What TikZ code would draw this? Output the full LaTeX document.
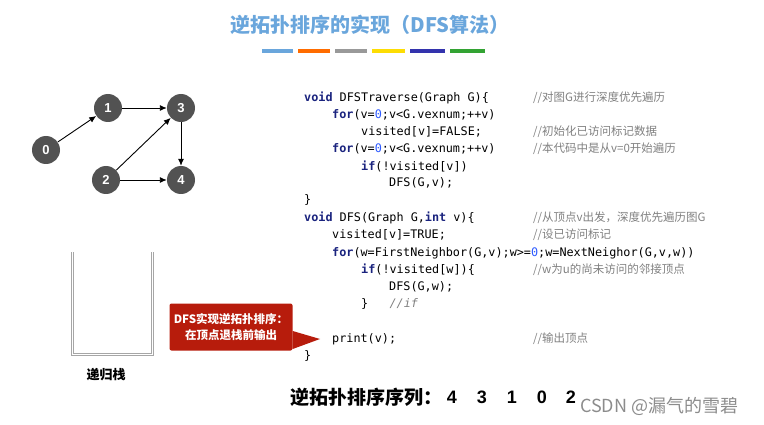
\documentclass[tikz,border=0pt]{standalone}
\usepackage{fontspec}
\setmainfont{Liberation Sans}
\setmonofont{DejaVu Sans Mono}
\newfontfamily\cjk{Noto Sans CJK SC}
\usetikzlibrary{arrows.meta}
\definecolor{ttl}{HTML}{6AA6DC}
\definecolor{kw}{HTML}{1A237E}
\definecolor{num}{HTML}{2E5BFF}
\definecolor{cmt}{HTML}{808080}
\definecolor{callred}{HTML}{B71C0C}
\newcommand{\kw}[1]{\textcolor{kw}{\textbf{#1}}}
\newcommand{\nm}[1]{\textcolor{num}{#1}}
\tikzset{
 vert/.style={circle,fill=black!68,minimum size=28pt,inner sep=0pt,text=white,font=\bfseries\fontsize{13}{13}\selectfont},
 edge/.style={-{Latex[length=7pt,width=6pt]},line width=0.9pt},
 code/.style={anchor=west,inner sep=0pt,font=\ttfamily\fontsize{11.8}{12}\selectfont},
 cmtx/.style={anchor=west,inner sep=0pt,text=cmt,font=\cjk\fontsize{11.5}{12}\selectfont},
 digit/.style={inner sep=0pt,font=\bfseries\fontsize{18}{18}\selectfont},
 bar/.style={line width=4pt},
}
\begin{document}
\begin{tikzpicture}[x=1pt,y=-1pt]
\useasboundingbox (0,0) rectangle (764,425);
\node[font=\cjk\bfseries\fontsize{20}{20}\selectfont,text=ttl] (title) at (370,25) {逆拓扑排序的实现（DFS算法）};
\draw[bar,color=ttl] (262,51)--(293,51);
\draw[bar,color=orange!85!red] (298,51)--(330,51);
\draw[bar,color=black!40] (335,51)--(367,51);
\draw[bar,color=yellow!80!orange] (372,51)--(405,51);
\draw[bar,color=blue!60!black!80] (410,51)--(445,51);
\draw[bar,color=green!55!black!80] (450,51)--(485,51);
\node[vert] (v0) at (46,150) {0};
\node[vert] (v1) at (108,108) {1};
\node[vert] (v3) at (181,108) {3};
\node[vert] (v2) at (106,180) {2};
\node[vert] (v4) at (181,180) {4};
\draw[edge] (v0)--(v1);
\draw[edge] (v1)--(v3);
\draw[edge] (v2)--(v3);
\draw[edge] (v3)--(v4);
\draw[edge] (v2)--(v4);
\draw[black!35,line width=3pt] (72,252)--(72,354)--(152,354)--(152,252);
\draw[white,line width=1pt] (72,252)--(72,354)--(152,354)--(152,252);
\node[font=\cjk\bfseries\fontsize{13}{13}\selectfont] (stk) at (106,375) {递归栈};
\node[code] (c1) at (304,98) {\kw{void} DFSTraverse(Graph G)\{};
\node[code] (c2) at (332,115) {\kw{for}(v=\nm{0};v<G.vexnum;++v)};
\node[code] (c3) at (361,132) {visited[v]=FALSE;};
\node[code] (c4) at (332,149) {\kw{for}(v=\nm{0};v<G.vexnum;++v)};
\node[code] (c5) at (361,166) {\kw{if}(!visited[v])};
\node[code] (c6) at (389,183) {DFS(G,v);};
\node[code] (c7) at (304,200) {\}};
\node[code] (c8) at (304,218) {\kw{void} DFS(Graph G,\kw{int} v)\{};
\node[code] (c9) at (332,235) {visited[v]=TRUE;};
\node[code] (c10) at (332,253) {\kw{for}(w=FirstNeighbor(G,v);w>=\nm{0};w=NextNeighor(G,v,w))};
\node[code] (c11) at (361,270) {\kw{if}(!visited[w])\{};
\node[code] (c12) at (389,287) {DFS(G,w);};
\node[code] (c13) at (361,304) {\}\ \ \ \textcolor{cmt}{\textit{//if}}};
\node[code] (c14) at (332,339) {print(v);};
\node[code] (c15) at (304,356) {\}};
\node[cmtx] (m1) at (533,98) {//对图\textit{G}进行深度优先遍历};
\node[cmtx] (m2) at (533,132) {//初始化已访问标记数据};
\node[cmtx] (m3) at (533,149) {//本代码中是从\textit{v=0}开始遍历};
\node[cmtx] (m4) at (533,218) {//从顶点\textit{v}出发，深度优先遍历图\textit{G}};
\node[cmtx] (m5) at (533,235) {//设已访问标记};
\node[cmtx] (m6) at (533,270) {//\textit{w}为\textit{u}的尚未访问的邻接顶点};
\node[cmtx] (m7) at (533,339) {//输出顶点};
\coordinate (tip) at (320,339);
\node[fill=callred,rounded corners=2pt,text=white,align=center,
 font=\cjk\bfseries\fontsize{11.5}{16}\selectfont,minimum width=123pt,minimum height=47pt,inner sep=1pt] (call) at (231,327) {DFS实现逆拓扑排序：\\在顶点退栈前输出};
\fill[callred] ([yshift=-4pt]call.east) -- (tip) -- ([yshift=-22pt]call.east) -- cycle;
\node[anchor=west,inner sep=0pt,font=\cjk\bfseries\fontsize{19}{19}\selectfont] (seq) at (290,397) {逆拓扑排序序列：};
\node[digit] (d4) at (452,397) {4};
\node[digit] (d3) at (482,397) {3};
\node[digit] (d1) at (512,397) {1};
\node[digit] (d0) at (542,397) {0};
\node[digit] (d2) at (571,397) {2};
\node[anchor=west,inner sep=0pt,text=black!45,font=\cjk\fontsize{18}{18}\selectfont] (wm) at (580,406) {CSDN @漏气的雪碧};
\end{tikzpicture}
\end{document}
